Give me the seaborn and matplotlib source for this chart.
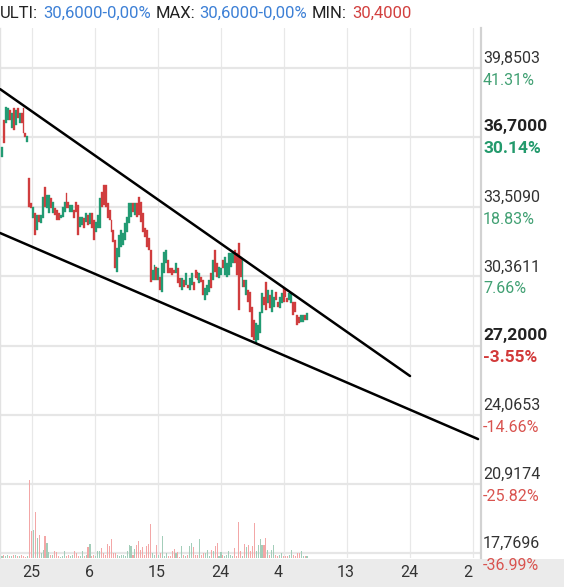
import numpy as np
import pandas as pd
import matplotlib
matplotlib.use("Agg")
import matplotlib.pyplot as plt
import matplotlib.transforms as mtransforms
from matplotlib.patches import Rectangle
import seaborn as sns

# ---------------- data ----------------
opens = [35.80, 37.48, 37.35, 37.48, 37.94, 37.12, 38.03, 37.26, 38.03, 37.35, 37.80, 38.03, 36.89, 36.48,
         34.84, 33.70, 33.02, 33.25, 32.48, 33.16, 32.79, 33.02, 34.43, 33.48, 33.25, 33.93, 33.25, 33.48,
         33.39, 33.25, 33.02, 33.07, 33.30, 34.16, 33.75, 33.30, 33.30, 33.39, 33.75, 33.61, 32.61, 32.70,
         33.02, 32.84, 33.16, 32.75, 33.25, 32.93, 32.38, 32.57, 32.57, 34.21, 34.52, 34.52, 33.70, 33.39,
         32.93, 32.48, 32.02, 30.57, 31.25, 31.70, 31.80, 32.02, 32.38, 32.79, 33.07, 33.70, 33.16, 33.70,
         33.98, 33.75, 33.25, 32.57, 32.48, 32.11, 31.57, 30.20, 30.20, 30.79, 30.20, 30.34, 29.65, 30.52,
         30.97, 31.11, 30.76, 30.76, 30.66, 30.52, 30.76, 30.29, 29.75, 30.20, 29.97, 29.97, 29.75, 29.97,
         30.11, 30.66, 30.57, 30.06, 30.34, 30.20, 29.29, 29.52, 29.65, 30.52, 30.20, 31.57, 30.97, 30.29,
         30.43, 31.11, 30.43, 30.34, 30.43, 30.79, 30.97, 31.57, 31.43, 31.88, 31.25, 29.88, 30.20, 29.52,
         29.75, 29.65, 28.97, 28.38, 27.33, 27.47, 27.79, 28.70, 29.43, 30.11, 29.15, 29.52, 28.74, 28.97,
         29.65, 29.20, 28.93, 29.15, 29.84, 29.75, 29.38, 29.29, 29.15, 29.20, 29.20, 28.61, 28.52, 28.28,
         28.28, 28.61, 28.38]
closes = [36.25, 36.44, 38.07, 38.03, 37.48, 37.80, 37.03, 37.94, 37.57, 37.80, 37.35, 36.89, 36.71, 36.75,
          33.52, 33.48, 33.52, 32.25, 33.16, 32.84, 33.16, 33.98, 33.52, 34.07, 34.07, 33.48, 33.75, 33.16,
          32.93, 32.93, 33.16, 33.52, 33.75, 33.48, 33.48, 33.61, 33.61, 33.02, 33.30, 32.25, 33.07, 33.07,
          32.57, 33.25, 32.70, 33.25, 32.57, 32.02, 32.84, 33.16, 33.93, 33.52, 33.61, 33.52, 33.02, 32.93,
          32.38, 31.93, 30.76, 31.66, 32.25, 32.48, 32.34, 32.79, 33.07, 33.70, 33.70, 33.30, 33.70, 33.07,
          33.16, 32.84, 32.38, 32.16, 31.70, 31.57, 30.11, 30.66, 30.88, 30.20, 30.76, 29.75, 30.97, 31.48,
          31.57, 30.52, 30.52, 30.43, 30.52, 30.97, 30.06, 29.88, 30.29, 29.88, 30.52, 29.84, 30.29, 30.52,
          29.75, 30.29, 30.20, 30.52, 30.11, 29.52, 29.84, 29.97, 30.20, 29.84, 31.11, 30.57, 30.34, 30.79,
          30.76, 30.76, 31.25, 30.97, 31.43, 31.43, 31.48, 30.97, 30.43, 28.83, 30.34, 31.11, 29.88, 30.20,
          29.20, 28.74, 27.61, 27.47, 28.24, 28.15, 28.74, 29.61, 29.06, 28.83, 29.75, 28.93, 29.75, 29.43,
          29.29, 28.97, 29.43, 29.61, 29.20, 29.43, 29.20, 29.61, 29.61, 28.61, 28.74, 28.15, 28.24, 28.61,
          28.61, 28.38, 28.70]
volumes = [2, 3, 2, 3, 2, 2, 3, 3, 2, 2, 3, 2, 1, 2,
           78, 27, 28, 46, 20, 23, 5, 8, 22, 15, 6, 3, 3, 7, 6, 2, 1, 2, 7, 2, 3, 2, 3, 7, 5, 2,
           2, 7, 2, 3, 11, 14, 2, 3, 2, 7, 7, 10, 5, 3, 14, 12, 19, 5, 5, 3, 2, 3, 3, 2, 7, 13,
           12, 3, 9, 13, 17, 8, 11, 3, 12, 14, 34, 5, 3, 13, 3, 5, 22, 2, 5, 2, 2, 7, 9, 5, 6, 1,
           12, 3, 2, 3, 12, 15, 11, 3, 3, 19, 3, 5, 5, 8, 2, 8, 7, 12, 15, 2, 6, 3, 2, 3, 7, 3,
           2, 10, 2, 36, 7, 2, 14, 11, 13, 7, 12, 35, 7, 13, 19, 13, 13, 20, 8, 3, 8, 13, 3, 2,
           3, 5, 2, 2, 2, 3, 8, 3, 2, 5, 5, 7, 2, 2, 2]

price_ticks = [39.8503, 36.7000, 33.5090, 30.3611, 27.2000, 24.0653, 20.9174, 17.7696]
price_labels = ["39,8503", "36,7000", "33,5090", "30,3611", "27,2000", "24,0653", "20,9174", "17,7696"]
pct_labels = ["41.31%", "30.14%", "18.83%", "7.66%", "-3.55%", "-14.66%", "-25.82%", "-36.99%"]
bold_levels = ["36,7000", "27,2000"]

date_tick_pos = [15.35, 47.6, 79.8, 112.0, 144.2, 176.5, 208.7, 240.9]
date_labels = ["25", "6", "15", "24", "4", "13", "24", "2"]

upper_trend_x = [-1.0, 208.7]
upper_trend_y = [38.89, 25.83]
lower_trend_x = [-1.0, 243.5]
lower_trend_y = [32.34, 22.96]

header_parts = ["ULTI:", "30,6000-0,00%", "MAX:", "30,6000-0,00%", "MIN:", "30,4000"]
header_colors = ["#222222", "#3d80d6", "#222222", "#3d80d6", "#222222", "#d2403f"]
header_x_px = [0, 43, 156, 199, 312, 352]

# ---------------- style ----------------
sns.set_theme(style="white")
plt.rcParams["font.family"] = ["Roboto", "DejaVu Sans"]

W, H = 564, 587
fig = plt.figure(figsize=(W / 100, H / 100), dpi=100)
fig.patch.set_facecolor("white")
ax = fig.add_axes([0, 29 / H, 481 / W, 530 / H])
fig.patches.append(Rectangle((0, 0), 1, 28 / H, transform=fig.transFigure,
                             facecolor="#ebebeb", edgecolor="none", zorder=-5))

RED, GREEN = "#d03d3e", "#229b73"
VRED, VGREEN = "#f3a7a7", "#a3cdb9"

n = len(opens)
idx = np.arange(n)
o = np.array(opens)
c = np.array(closes)
up = c >= o
colors = [GREEN if u else RED for u in up]

# candles
ax.bar(idx, np.abs(c - o), bottom=np.minimum(o, c), width=1.0, color=colors,
       edgecolor=colors, linewidth=0.25, zorder=3)

# trend lines
sns.lineplot(x=upper_trend_x, y=upper_trend_y, ax=ax, color="black", linewidth=1.8, zorder=4)
sns.lineplot(x=lower_trend_x, y=lower_trend_y, ax=ax, color="black", linewidth=1.8, zorder=4)

# volume on twin axis
axv = ax.twinx()
vdf = pd.DataFrame({"idx": idx, "volume": volumes, "dir": ["up" if u else "down" for u in up]})
sns.barplot(data=vdf, x="idx", y="volume", hue="dir", palette={"up": VGREEN, "down": VRED},
            native_scale=True, width=0.55, dodge=False, errorbar=None, legend=False,
            linewidth=0, saturation=1, ax=axv)
axv.set_ylim(0, 530)
axv.set_axis_off()
axv.patch.set_visible(False)

ax.set_xlim(-1.023, 245.0)
ax.set_ylim(17.547, 41.67)
ax.set_xlabel("")
ax.set_ylabel("")
ax.set_xticks(date_tick_pos)
ax.set_yticks(price_ticks)
ax.tick_params(length=0, labelbottom=False, labelleft=False)
ax.grid(True, axis="x", color="#e8e8e8", linewidth=0.9, zorder=0)
ax.grid(True, axis="y", color="#e6e6e6", linewidth=1.6, zorder=0)
ax.set_axisbelow(True)
for s in ["top", "bottom"]:
    ax.spines[s].set_visible(False)
ax.spines["right"].set_color("#d2d2d2")
ax.spines["right"].set_linewidth(1.6)
ax.spines["left"].set_color("#e2e2e2")
ax.spines["left"].set_linewidth(1.0)

# bottom date labels
btrans = mtransforms.blended_transform_factory(ax.transData, ax.transAxes)
btrans = mtransforms.offset_copy(btrans, fig=fig, x=-10, y=-19, units="dots")
for p, lab in zip(date_tick_pos, date_labels):
    ax.text(p, 0, lab, transform=btrans, ha="left", va="baseline", fontsize=11.5,
            color="#333333", clip_on=False)

# right axis labels
rbase = mtransforms.blended_transform_factory(ax.transAxes, ax.transData)
for p, lab, pct in zip(price_ticks, price_labels, pct_labels):
    bold = lab in bold_levels
    neg = pct.startswith("-")
    if bold:
        pc = "#d23a3a" if neg else "#239a6c"
        t1 = mtransforms.offset_copy(rbase, fig=fig, x=2, y=6, units="dots")
        t2 = mtransforms.offset_copy(rbase, fig=fig, x=2, y=-16, units="dots")
        ax.text(1.0, p, lab, transform=t1, ha="left", va="baseline", fontsize=12.5,
                fontweight="bold", color="#222222", clip_on=False)
        ax.text(1.0, p, pct, transform=t2, ha="left", va="baseline", fontsize=12.5,
                fontweight="bold", color=pc, clip_on=False)
    else:
        pc = "#d9534f" if neg else "#41a073"
        t1 = mtransforms.offset_copy(rbase, fig=fig, x=2, y=5, units="dots")
        t2 = mtransforms.offset_copy(rbase, fig=fig, x=2, y=-17, units="dots")
        ax.text(1.0, p, lab, transform=t1, ha="left", va="baseline", fontsize=11.5,
                color="#333333", clip_on=False)
        ax.text(1.0, p, pct, transform=t2, ha="left", va="baseline", fontsize=11.5,
                color=pc, clip_on=False)

# header
for txt, col, xp in zip(header_parts, header_colors, header_x_px):
    fig.text(xp / W, 1 - 17.5 / H, txt, ha="left", va="baseline", fontsize=12,
             color=col)

fig.savefig("out.png", dpi=100)
